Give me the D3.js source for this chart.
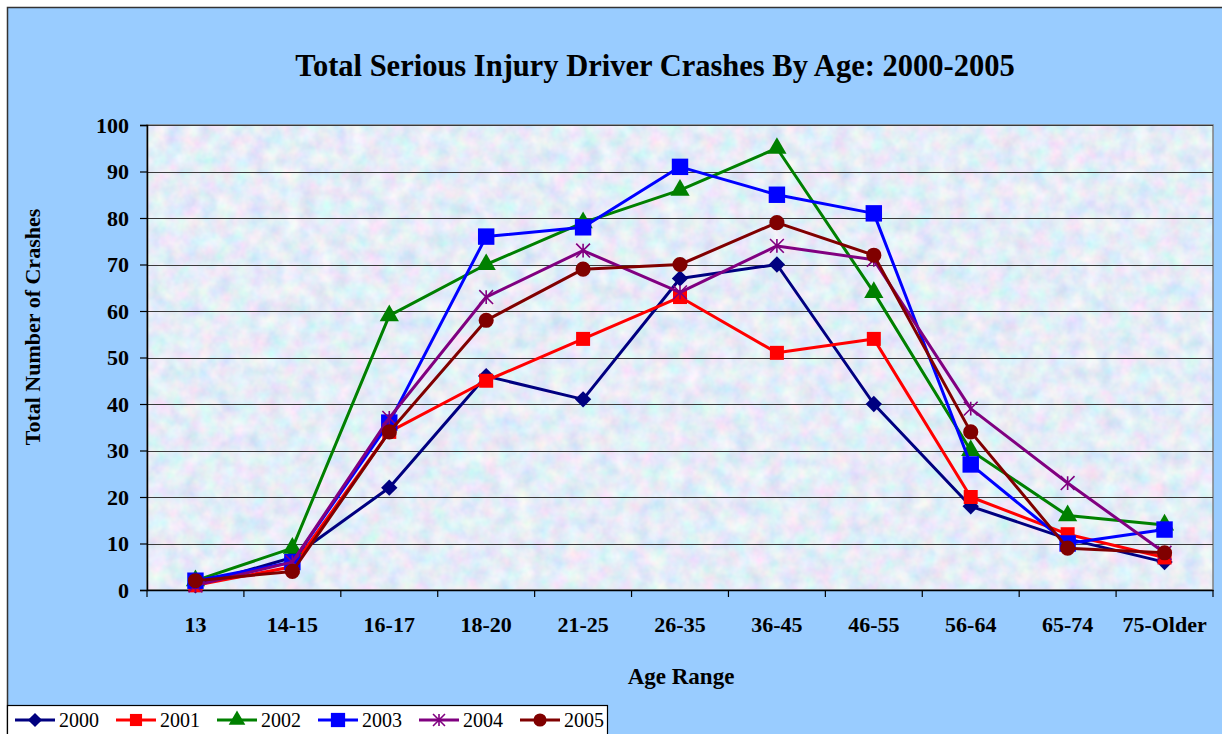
<!DOCTYPE html>
<html>
<head>
<meta charset="utf-8">
<script src="https://cdn.jsdelivr.net/npm/d3@7"></script>
<style>
  html, body { margin: 0; padding: 0; background: #fff; }
  svg { display: block; }
  text { font-family: "Liberation Serif", "Times New Roman", serif; }
</style>
</head>
<body>
<svg id="chart" width="1222" height="734"></svg>
<script>
// chart data
var ageRanges = ["13", "14-15", "16-17", "18-20", "21-25", "26-35", "36-45", "46-55", "56-64", "65-74", "75-Older"];
var years = ["2000", "2001", "2002", "2003", "2004", "2005"];
var crashes2000 = [1, 7, 22, 46, 41, 67, 70, 40, 18, 11, 6];
var crashes2001 = [1, 5, 34, 45, 54, 63, 51, 54, 20, 12, 7];
var crashes2002 = [2, 9, 59, 70, 79, 86, 95, 64, 30, 16, 14];
var crashes2003 = [2, 6, 36, 76, 78, 91, 85, 81, 27, 10, 13];
var crashes2004 = [1, 6, 37, 63, 73, 64, 74, 71, 39, 23, 8];
var crashes2005 = [2, 4, 34, 58, 69, 70, 79, 72, 34, 9, 8];
var yTicks = [0, 10, 20, 30, 40, 50, 60, 70, 80, 90, 100];

var seriesValues = [crashes2000, crashes2001, crashes2002, crashes2003, crashes2004, crashes2005];

// Excel-like asterisk marker: vertical bar plus an X
var symbolExcelStar = {
  draw: function (ctx, size) {
    var r = Math.sqrt(size) / 2;
    ctx.moveTo(0, -r); ctx.lineTo(0, r);
    ctx.moveTo(-r, -r); ctx.lineTo(r, r);
    ctx.moveTo(-r, r); ctx.lineTo(r, -r);
  }
};

var styles = [
  { color: "#000080", symbol: d3.symbolDiamond2, size: 170, stroke: false },
  { color: "#FF0000", symbol: d3.symbolSquare, size: 196, stroke: false },
  { color: "#008000", symbol: d3.symbolTriangle, size: 160, stroke: false },
  { color: "#0000FF", symbol: d3.symbolSquare, size: 270, stroke: false },
  { color: "#800080", symbol: symbolExcelStar, size: 190, stroke: true },
  { color: "#800000", symbol: d3.symbolCircle, size: 180, stroke: false }
];

var svg = d3.select("#chart");
var plot = { left: 147, right: 1213, top: 125, bottom: 590 };

// outer chart area
svg.append("rect")
  .attr("x", 7.5).attr("y", 7.5)
  .attr("width", 1222).attr("height", 740)
  .attr("fill", "#99CCFF")
  .attr("stroke", "#333").attr("stroke-width", 1.5);

// textured plot background
var defs = svg.append("defs");
var flt = defs.append("filter").attr("id", "tex")
  .attr("x", 0).attr("y", 0).attr("width", "100%").attr("height", "100%");
flt.append("feTurbulence")
  .attr("type", "fractalNoise").attr("baseFrequency", 0.06)
  .attr("numOctaves", 3).attr("seed", 7);
flt.append("feColorMatrix").attr("type", "matrix")
  .attr("values", "0.55 0 0 0 0.51  0 0.35 0 0 0.67  0 0 0.2 0 0.83  0 0 0 0 1");

svg.append("rect")
  .attr("x", plot.left).attr("y", plot.top)
  .attr("width", plot.right - plot.left).attr("height", plot.bottom - plot.top)
  .attr("filter", "url(#tex)");
svg.append("rect")
  .attr("x", plot.left).attr("y", plot.top)
  .attr("width", plot.right - plot.left).attr("height", plot.bottom - plot.top)
  .attr("fill", "none").attr("stroke", "#808080").attr("stroke-width", 1.5);

var x = d3.scaleBand().domain(ageRanges).range([plot.left, plot.right]);
var y = d3.scaleLinear().domain([0, 100]).range([plot.bottom, plot.top]);

// gridlines
svg.append("g")
  .selectAll("line")
  .data(yTicks.slice(1))
  .enter().append("line")
  .attr("x1", plot.left).attr("x2", plot.right)
  .attr("y1", function (d) { return Math.round(y(d)) + 0.5; })
  .attr("y2", function (d) { return Math.round(y(d)) + 0.5; })
  .attr("stroke", "#3a3a3a").attr("stroke-width", 1.2);

// y axis
var yAxis = svg.append("g")
  .attr("transform", "translate(" + plot.left + ",0)")
  .call(d3.axisLeft(y).tickValues(yTicks).tickSize(7).tickPadding(11));
yAxis.select(".domain").attr("stroke", "#000").attr("stroke-width", 1.5);
yAxis.selectAll(".tick line").attr("stroke", "#000").attr("stroke-width", 1.2);
yAxis.selectAll("text")
  .attr("font-family", "Liberation Serif, serif")
  .attr("font-weight", "bold").attr("font-size", 22).attr("fill", "#000");

// x axis: ticks at category boundaries
var xAxis = svg.append("g")
  .attr("transform", "translate(0," + plot.bottom + ")")
  .call(d3.axisBottom(x).tickSize(0).tickPadding(26));
xAxis.select(".domain").attr("stroke", "#000").attr("stroke-width", 1.5);
xAxis.selectAll("text")
  .attr("font-family", "Liberation Serif, serif")
  .attr("font-weight", "bold").attr("font-size", 22).attr("fill", "#000");
xAxis.selectAll(".bound")
  .data(d3.range(ageRanges.length + 1))
  .enter().append("line")
  .attr("x1", function (i) { return plot.left + i * x.step(); })
  .attr("x2", function (i) { return plot.left + i * x.step(); })
  .attr("y1", 0).attr("y2", 7)
  .attr("stroke", "#000").attr("stroke-width", 1.2);

// series
var line = d3.line()
  .x(function (d, i) { return x(ageRanges[i]) + x.bandwidth() / 2; })
  .y(function (d) { return y(d); });

seriesValues.forEach(function (vals, s) {
  var st = styles[s];
  var g = svg.append("g");
  g.append("path")
    .attr("d", line(vals))
    .attr("fill", "none").attr("stroke", st.color).attr("stroke-width", 3)
    .attr("stroke-linejoin", "round");
  g.selectAll("path.mk")
    .data(vals)
    .enter().append("path")
    .attr("class", "mk")
    .attr("transform", function (d, i) {
      return "translate(" + (x(ageRanges[i]) + x.bandwidth() / 2) + "," + y(d) + ")";
    })
    .attr("d", d3.symbol().type(st.symbol).size(st.size))
    .attr("fill", st.stroke ? "none" : st.color)
    .attr("stroke", st.stroke ? st.color : "none")
    .attr("stroke-width", st.stroke ? 1.6 : 0);
});

// titles
svg.append("text")
  .attr("x", 655).attr("y", 76)
  .attr("text-anchor", "middle").attr("font-size", 30.5).attr("font-weight", "bold")
  .text("Total Serious Injury Driver Crashes By Age: 2000-2005");
svg.append("text")
  .attr("transform", "translate(40,327) rotate(-90)")
  .attr("text-anchor", "middle").attr("font-size", 22).attr("font-weight", "bold")
  .text("Total Number of Crashes");
svg.append("text")
  .attr("x", 681).attr("y", 684)
  .attr("text-anchor", "middle").attr("font-size", 23).attr("font-weight", "bold")
  .text("Age Range");

// legend
var legend = svg.append("g");
legend.append("rect")
  .attr("x", 7.5).attr("y", 705.5).attr("width", 600).attr("height", 40)
  .attr("fill", "#fff").attr("stroke", "#000").attr("stroke-width", 1.2);
years.forEach(function (yr, s) {
  var st = styles[s];
  var lx = 15 + s * 101, ly = 720;
  legend.append("line")
    .attr("x1", lx).attr("x2", lx + 40).attr("y1", ly).attr("y2", ly)
    .attr("stroke", st.color).attr("stroke-width", 3);
  legend.append("path")
    .attr("transform", "translate(" + (lx + 20) + "," + ly + ")")
    .attr("d", d3.symbol().type(st.symbol).size(st.size * 0.75))
    .attr("fill", st.stroke ? "none" : st.color)
    .attr("stroke", st.stroke ? st.color : "none")
    .attr("stroke-width", st.stroke ? 1.6 : 0);
  legend.append("text")
    .attr("x", lx + 44).attr("y", ly + 7)
    .attr("font-size", 20)
    .text(yr);
});
</script>
</body>
</html>
